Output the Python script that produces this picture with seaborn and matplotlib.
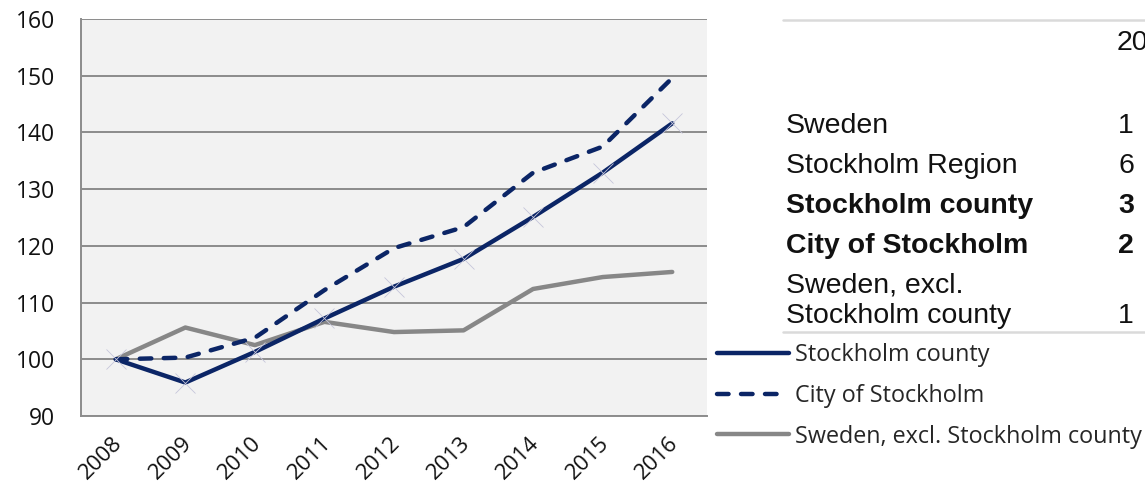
import matplotlib
matplotlib.use("Agg")
import matplotlib.pyplot as plt
from matplotlib.lines import Line2D
import seaborn as sns
import pandas as pd
import numpy as np

years = ["2008", "2009", "2010", "2011", "2012", "2013", "2014", "2015", "2016"]
stockholm_county = [100, 95.9, 101.3, 107.2, 112.8, 117.7, 125.1, 132.9, 141.6]
city_of_stockholm = [100, 100.3, 103.8, 112.2, 119.6, 123.3, 132.9, 137.5, 149.6]
sweden_excl = [100, 105.6, 102.5, 106.6, 104.8, 105.1, 112.4, 114.5, 115.4]
series_names = ["Stockholm county", "City of Stockholm", "Sweden, excl. Stockholm county"]
y_ticks = [90, 100, 110, 120, 130, 140, 150, 160]

table_header = "20"
table_rows = ["Sweden", "Stockholm Region", "Stockholm county", "City of Stockholm",
              "Sweden, excl.", "Stockholm county"]
table_bold = [False, False, True, True, False, False]
table_values = ["1", "6", "3", "2", "", "1"]

NAVY = "#0b2566"
GRAY = "#878787"
AXGRAY = "#8c8c8c"
LW = 3.2
DASH = (2.6, 2.8)

sns.set_theme(style="white")
plt.rcParams["font.family"] = ["Open Sans", "DejaVu Sans"]

W, H = 1145, 488
fig = plt.figure(figsize=(W / 100, H / 100), dpi=100)
ax = fig.add_axes([81 / W, 1 - 416 / H, (707 - 81) / W, (416 - 19) / H])
ax.set_facecolor("#f2f2f2")

xpos = np.arange(len(years))
df = pd.DataFrame({
    "x": np.tile(xpos, 3),
    "value": stockholm_county + city_of_stockholm + sweden_excl,
    "series": np.repeat(series_names, len(years)),
})

# faint x markers (hidden series look)
ax.plot(xpos, stockholm_county, linestyle="none", marker="x", markersize=14,
        markeredgewidth=0.6, color="#c5c5da", zorder=4)

sns.lineplot(data=df[df.series == series_names[2]], x="x", y="value", color=GRAY,
             linewidth=LW, ax=ax, legend=False, zorder=3,
             solid_capstyle="round", solid_joinstyle="round")
sns.lineplot(data=df[df.series == series_names[0]], x="x", y="value", color=NAVY,
             linewidth=LW, ax=ax, legend=False, zorder=3,
             solid_capstyle="round", solid_joinstyle="round")
sns.lineplot(data=df[df.series == series_names[1]], x="x", y="value", color=NAVY,
             linewidth=LW, ax=ax, legend=False, zorder=3)
dl = ax.get_lines()[-1]
dl.set_dashes(DASH)
dl.set_dash_capstyle("round")
dl.set_dash_joinstyle("round")

ax.set_xlim(-0.5, len(years) - 0.5)
ax.set_ylim(90, 160)
ax.set_yticks(y_ticks)
ax.set_yticklabels([str(t) for t in y_ticks], fontsize=16.5, color="#111111")
ax.yaxis.grid(True, color=AXGRAY, linewidth=1.4)
ax.set_axisbelow(True)

ax.set_xticks(np.arange(-0.5, len(years), 1.0))
ax.set_xticklabels([])
ax.set_xticks(xpos - 0.06, minor=True)
ax.set_xticklabels(years, minor=True, rotation=45, ha="right", rotation_mode="anchor",
                   fontsize=16, color="#111111")
ax.tick_params(axis="x", which="minor", length=0, pad=12)
ax.tick_params(axis="x", which="major", length=6, width=1.4, color=AXGRAY, direction="out")
ax.tick_params(axis="y", length=6, width=1.4, color=AXGRAY, direction="out", pad=12.5)
ax.set_xlabel("")
ax.set_ylabel("")
for s in ["top", "right"]:
    ax.spines[s].set_visible(False)
for s in ["left", "bottom"]:
    ax.spines[s].set_color(AXGRAY)
    ax.spines[s].set_linewidth(1.4)

# legend
handles = [
    Line2D([], [], color=NAVY, linewidth=LW, solid_capstyle="round"),
    Line2D([], [], color=NAVY, linewidth=LW, linestyle=(0, DASH), dash_capstyle="round"),
    Line2D([], [], color=GRAY, linewidth=LW, solid_capstyle="round"),
]
fig.legend(handles, series_names, loc="upper left", bbox_to_anchor=(717 / W, 1 - 343 / H),
           frameon=False, fontsize=16.8, handlelength=3.1, handletextpad=0.26,
           labelspacing=0.72, borderpad=0, borderaxespad=0)

# table
fig.add_artist(Line2D([783 / W, 1.0], [1 - 20 / H] * 2, color="#dadada", linewidth=1.8))
fig.add_artist(Line2D([783 / W, 1.0], [1 - 332 / H] * 2, color="#dadada", linewidth=1.8))
fig.text(1117 / W, 1 - 43 / H, table_header, fontsize=20.5,
         family="Liberation Sans", va="center", ha="left", color="#111111")
row_y = [126, 166, 206, 246, 286, 316]
for name, b, val, y in zip(table_rows, table_bold, table_values, row_y):
    fig.text(786 / W, 1 - y / H, name, fontsize=20.5, family="Liberation Sans",
             weight="bold" if b else "normal", va="center", ha="left", color="#111111")
    if val:
        fig.text(1118 / W, 1 - y / H, val, fontsize=20.5, family="Liberation Sans",
                 weight="bold" if b else "normal", va="center", ha="left", color="#111111")

fig.savefig("out.png", dpi=100)
